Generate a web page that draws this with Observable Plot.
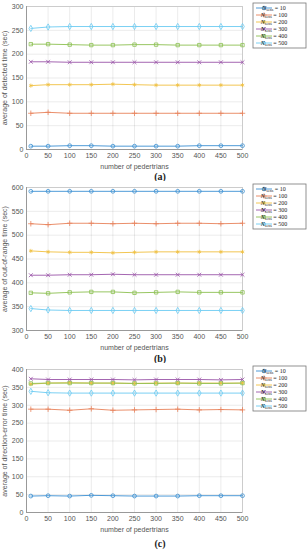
<!DOCTYPE html>
<html>
<head>
<meta charset="utf-8">
<script src="https://cdn.jsdelivr.net/npm/d3@7"></script>
<script src="https://cdn.jsdelivr.net/npm/@observablehq/plot@0.6"></script>
<style>
  html, body { margin: 0; padding: 0; background: #fff; }
  #wrap { position: relative; width: 308px; height: 550px; overflow: hidden; }
  .panel { position: absolute; left: 0; }
  .cap { position: absolute; left: 0; width: 320px; text-align: center;
         font-family: "Liberation Serif", "DejaVu Serif", serif; font-weight: bold; font-size: 10px; color: #222; }
</style>
</head>
<body>
<div id="wrap"></div>
<script>
// ---- data ----
const xs = [10, 50, 100, 150, 200, 250, 300, 350, 400, 450, 500];
const seriesNames = ["10", "100", "200", "300", "400", "500"];
const xTicks = [0, 50, 100, 150, 200, 250, 300, 350, 400, 450, 500];

// (a) average of detected time
const detected10  = [7, 7, 8, 8, 7, 7, 7, 7, 8, 8, 8];
const detected100 = [76, 78, 76, 76, 76, 76, 76, 76, 76, 76, 76];
const detected200 = [134, 136, 136, 136, 137, 136, 135, 135, 135, 135, 135];
const detected300 = [184, 184, 183, 183, 183, 183, 183, 183, 183, 183, 183];
const detected400 = [221, 221, 220, 219, 219, 220, 220, 219, 219, 219, 219];
const detected500 = [254, 257, 258, 258, 258, 258, 258, 258, 258, 258, 258];
const detectedTicks = [0, 50, 100, 150, 200, 250, 300];

// (b) average of out-of-range time
const outRange10  = [592, 592, 592, 592, 592, 592, 592, 592, 592, 592, 592];
const outRange100 = [524, 522, 525, 525, 524, 525, 524, 525, 525, 524, 525];
const outRange200 = [467, 465, 464, 464, 463, 464, 465, 465, 465, 465, 465];
const outRange300 = [416, 416, 417, 417, 418, 417, 417, 417, 417, 417, 417];
const outRange400 = [379, 378, 380, 381, 381, 379, 380, 381, 380, 380, 380];
const outRange500 = [346, 343, 342, 342, 342, 342, 342, 342, 342, 342, 342];
const outRangeTicks = [300, 350, 400, 450, 500, 550, 600];

// (c) average of direction-error time
const dirErr10  = [46, 47, 46, 48, 47, 46, 46, 46, 47, 47, 47];
const dirErr100 = [289, 289, 286, 290, 286, 287, 288, 289, 287, 288, 287];
const dirErr200 = [359, 362, 363, 362, 362, 361, 362, 362, 362, 362, 362];
const dirErr300 = [374, 372, 372, 372, 372, 371, 372, 372, 372, 371, 372];
const dirErr400 = [361, 362, 362, 362, 362, 361, 361, 362, 361, 361, 362];
const dirErr500 = [339, 335, 334, 334, 334, 334, 334, 334, 334, 334, 334];
const dirErrTicks = [0, 50, 100, 150, 200, 250, 300, 350, 400];

const colors = ["#3a8fd2", "#e8825a", "#f0c040", "#9a55a8", "#8cc050", "#6ccbf2"];
const symbols = ["circle", "plus", "asterisk", "times", "square", "diamond"];

const wrap = document.getElementById("wrap");

function symbolOf(name) {
  return {
    circle: d3.symbolCircle, plus: d3.symbolPlus, asterisk: d3.symbolAsterisk,
    times: d3.symbolTimes, square: d3.symbolSquare2, diamond: d3.symbolDiamond2
  }[name];
}

function panel(values, yTicks, yLabel, top, caption, capTop) {
  const data = seriesNames.flatMap((s, i) => xs.map((x, j) => ({x, y: values[i][j], s})));
  const plot = Plot.plot({
    width: 308, height: 170,
    marginTop: 6, marginLeft: 26, marginRight: 66, marginBottom: 21,
    style: {fontFamily: "'Liberation Sans', Arial, sans-serif", fontSize: "7px", color: "#555", background: "#fff", overflow: "visible"},
    x: {domain: [0, 500]},
    y: {domain: [yTicks[0], yTicks[yTicks.length - 1]]},
    color: {domain: seriesNames, range: colors},
    symbol: {domain: seriesNames, range: symbols},
    marks: [
      Plot.gridX(xTicks, {stroke: "#000", strokeOpacity: 0.08}),
      Plot.gridY(yTicks, {stroke: "#000", strokeOpacity: 0.08}),
      Plot.frame({stroke: "#ccc"}),
      Plot.axisX(xTicks, {tickSize: 0, tickPadding: 4, label: "number of pedertrians", labelAnchor: "center", labelArrow: "none", labelOffset: 19}),
      Plot.axisY(yTicks, {tickSize: 0, tickPadding: 3, label: yLabel, labelAnchor: "center", labelArrow: "none", labelOffset: 24}),
      Plot.ruleX([0], {stroke: "#999"}),
      Plot.ruleY([yTicks[0]], {stroke: "#999"}),
      Plot.line(data, {x: "x", y: "y", z: "s", stroke: "s", strokeWidth: 0.9}),
      Plot.dot(data, {x: "x", y: "y", stroke: "s", symbol: "s", r: 1.9, strokeWidth: 0.8})
    ]
  });
  plot.classList.add("panel");
  plot.style.top = top + "px";

  // legend box
  const svg = d3.select(plot);
  const lx = 253, ly = 3, lw = 53, lh = 45, rowH = 7;
  const g = svg.append("g");
  g.append("rect").attr("x", lx).attr("y", ly).attr("width", lw).attr("height", lh)
    .attr("fill", "#fff").attr("stroke", "#777").attr("stroke-width", 0.8);
  seriesNames.forEach((s, i) => {
    const cy = ly + 5 + i * rowH;
    g.append("line").attr("x1", lx + 3).attr("x2", lx + 19).attr("y1", cy).attr("y2", cy)
      .attr("stroke", colors[i]).attr("stroke-width", 0.9);
    g.append("path").attr("transform", `translate(${lx + 11},${cy})`)
      .attr("d", d3.symbol().type(symbolOf(symbols[i])).size(10)())
      .attr("fill", "none").attr("stroke", colors[i]).attr("stroke-width", 0.8);
    const t = g.append("text").attr("x", lx + 21).attr("y", cy + 2)
      .attr("font-family", "'Liberation Serif', 'DejaVu Serif', serif").attr("font-size", 6).attr("fill", "#222");
    t.append("tspan").attr("font-style", "italic").text("N");
    t.append("tspan").attr("font-size", 4).attr("dy", 1).text("sens");
    t.append("tspan").attr("dy", -1).text(" = " + s);
  });

  wrap.appendChild(plot);
  const cap = document.createElement("div");
  cap.className = "cap";
  cap.textContent = caption;
  cap.style.top = capTop + "px";
  wrap.appendChild(cap);
}

panel([detected10, detected100, detected200, detected300, detected400, detected500],
      detectedTicks, "average of detected time (sec)", 0, "(a)", 171);
panel([outRange10, outRange100, outRange200, outRange300, outRange400, outRange500],
      outRangeTicks, "average of out-of-range time (sec)", 181, "(b)", 353);
panel([dirErr10, dirErr100, dirErr200, dirErr300, dirErr400, dirErr500],
      dirErrTicks, "average of direction-error time (sec)", 363, "(c)", 538);
</script>
</body>
</html>
